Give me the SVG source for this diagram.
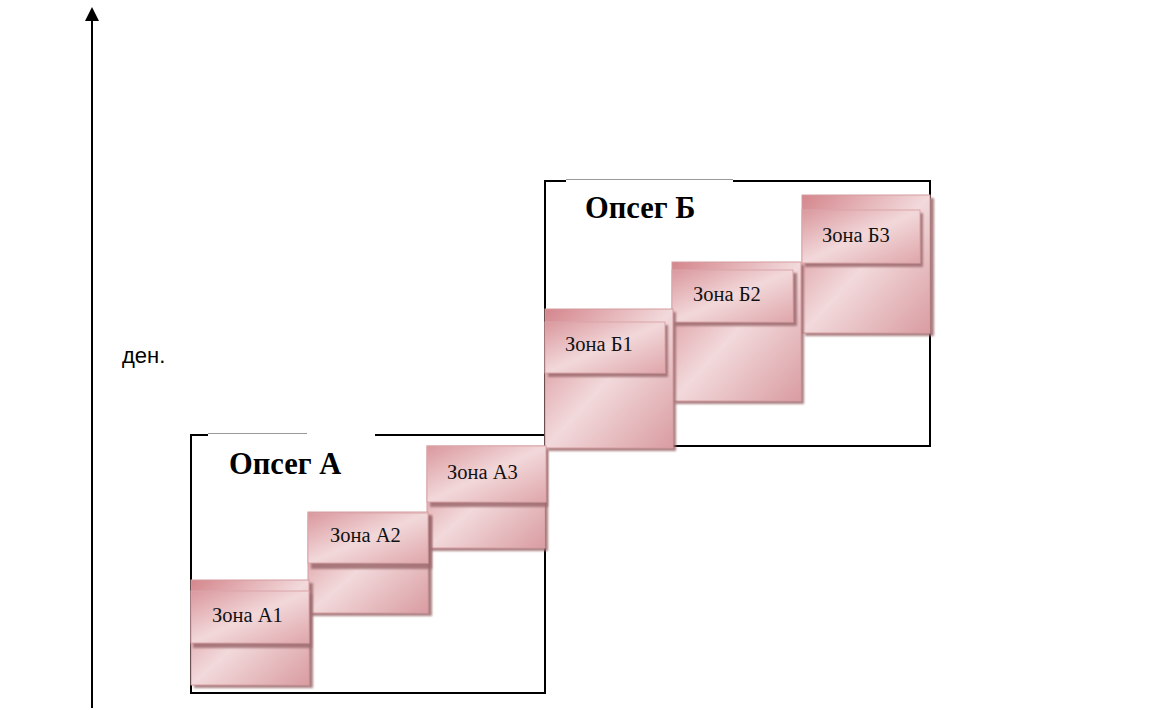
<svg xmlns="http://www.w3.org/2000/svg" width="1153" height="710" viewBox="0 0 1153 710">
  <style>
    .frame { fill: none; stroke: #000; stroke-width: 2; }
    .thin { stroke: #9a9a9a; stroke-width: 1.2; }
    .axis { stroke: #000; stroke-width: 2; }
    .body { fill: url(#rose); stroke: #d49ca0; stroke-width: 1; }
    .head { fill: url(#roseHead); stroke: #d9a5a9; stroke-width: 1; }
    .shade { fill: #9d6a6e; opacity: 0.85; }
    .zone-label { font-family: "Liberation Serif", "Times New Roman", serif; font-size: 20.5px; fill: #111; }
    .range-label { font-family: "Liberation Serif", "Times New Roman", serif; font-size: 30.5px; font-weight: bold; fill: #000; }
    .axis-label { font-family: "Liberation Sans", Arial, sans-serif; font-size: 22px; fill: #000; }
  </style>
  <defs>
    <linearGradient id="rose" x1="0" y1="0" x2="1" y2="1">
      <stop offset="0" stop-color="#d4868c"/>
      <stop offset="0.5" stop-color="#f2d9db"/>
      <stop offset="1" stop-color="#d99ca1"/>
    </linearGradient>
    <linearGradient id="roseHead" x1="0" y1="0" x2="1" y2="1">
      <stop offset="0" stop-color="#da989d"/>
      <stop offset="0.5" stop-color="#f2d8da"/>
      <stop offset="1" stop-color="#dfa6aa"/>
    </linearGradient>
    <filter id="soft" x="-10%" y="-10%" width="120%" height="120%">
      <feGaussianBlur stdDeviation="0.8"/>
    </filter>
  </defs>

  <!-- vertical axis -->
  <g id="axis">
    <line class="axis" x1="92" y1="708" x2="92" y2="21"/>
    <path d="M85,21 L92,7 L99,21 Z" fill="#000"/>
    <text class="axis-label" x="122" y="363">ден.</text>
  </g>

  <!-- range frames -->
  <g id="connectors">
    <g id="range-a">
      <path class="frame" d="M208,435 L191,435 L191,693 L545,693 L545,435 L375,435"/>
      <line class="thin" x1="208" y1="433.5" x2="307" y2="433.5"/>
      <text class="range-label" x="229" y="474">Опсег А</text>
    </g>
    <g id="range-b">
      <path class="frame" d="M566,181 L545,181 L545,446 L930,446 L930,181 L733,181"/>
      <line class="thin" x1="566" y1="179.5" x2="733" y2="179.5"/>
      <text class="range-label" x="585" y="218">Опсег Б</text>
    </g>
  </g>

  <!-- zone Б3 -->
  <g id="zone-b3">
    <rect class="shade" x="805" y="198" width="129" height="138" filter="url(#soft)"/>
    <rect class="body" x="802" y="195" width="128" height="138"/>
    <rect class="shade" x="805" y="213" width="118" height="54" filter="url(#soft)"/>
    <rect class="head" x="802" y="210" width="118" height="53"/>
    <text class="zone-label" x="822" y="242">Зона Б3</text>
  </g>

  <!-- zone Б2 -->
  <g id="zone-b2">
    <rect class="shade" x="675" y="265" width="129" height="139" filter="url(#soft)"/>
    <rect class="body" x="672" y="262" width="129" height="139"/>
    <rect class="shade" x="675" y="273" width="122" height="53" filter="url(#soft)"/>
    <rect class="head" x="672" y="270" width="121" height="52"/>
    <text class="zone-label" x="693" y="301">Зона Б2</text>
  </g>

  <!-- zone Б1 -->
  <g id="zone-b1">
    <rect class="shade" x="548" y="312" width="128" height="139" filter="url(#soft)"/>
    <rect class="body" x="545" y="309" width="128" height="139"/>
    <rect class="shade" x="548" y="325" width="120" height="52" filter="url(#soft)"/>
    <rect class="head" x="545" y="322" width="120" height="51"/>
    <text class="zone-label" x="565" y="351">Зона Б1</text>
  </g>

  <!-- zone А3 -->
  <g id="zone-a3">
    <rect class="shade" x="430" y="449" width="118" height="102" filter="url(#soft)"/>
    <rect class="body" x="427" y="446" width="118" height="102"/>
    <rect class="shade" x="430" y="449" width="118" height="58" filter="url(#soft)"/>
    <rect class="head" x="427" y="446" width="119" height="56"/>
    <text class="zone-label" x="447" y="479">Зона А3</text>
  </g>

  <!-- zone А2 -->
  <g id="zone-a2">
    <rect class="shade" x="311" y="515" width="121" height="101" filter="url(#soft)"/>
    <rect class="body" x="308" y="512" width="120" height="101"/>
    <rect class="shade" x="311" y="516" width="121" height="53" filter="url(#soft)"/>
    <rect class="head" x="308" y="513" width="120" height="50"/>
    <text class="zone-label" x="330" y="542">Зона А2</text>
  </g>

  <!-- zone А1 -->
  <g id="zone-a1">
    <rect class="shade" x="194" y="583" width="119" height="105" filter="url(#soft)"/>
    <rect class="body" x="191" y="580" width="118" height="105"/>
    <rect class="shade" x="193" y="594" width="119" height="54" filter="url(#soft)"/>
    <rect class="head" x="191" y="591" width="118" height="52"/>
    <text class="zone-label" x="212" y="622">Зона А1</text>
  </g>
</svg>
